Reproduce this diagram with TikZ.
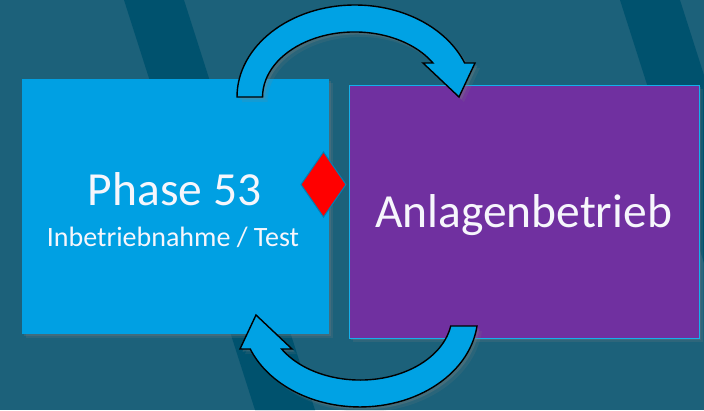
\documentclass[tikz,border=0pt]{standalone}
\usepackage{fontspec}
\setmainfont{Carlito}
\usetikzlibrary{shadows}
\definecolor{bgteal}{RGB}{28,97,122}
\definecolor{stripeteal}{RGB}{0,82,110}
\definecolor{phaseblue}{RGB}{0,160,227}
\definecolor{arrowblue}{RGB}{0,162,228}
\definecolor{runpurple}{RGB}{112,48,160}
\definecolor{edgeblue}{RGB}{20,176,236}
\definecolor{textwhite}{RGB}{246,246,252}
\tikzset{
  stripe/.style={fill=stripeteal, draw=none},
  softshadow/.style={
    drop shadow={opacity=0.18, shadow xshift=3.5pt, shadow yshift=-3.5pt},
    drop shadow={opacity=0.25, shadow xshift=2pt, shadow yshift=-2pt}},
  phasebox/.style={fill=phaseblue, draw=none, softshadow},
  runbox/.style={fill=runpurple, draw=edgeblue, line width=1pt, softshadow},
  gate/.style={fill=red, draw=phaseblue!80!black, line width=1pt},
  cyclearrow/.style={fill=arrowblue, draw=black, line width=1.4pt, line join=miter,
    drop shadow={opacity=0.15, shadow xshift=5pt, shadow yshift=-5pt},
    drop shadow={opacity=0.3, shadow xshift=2.5pt, shadow yshift=-2.5pt}},
  bigtext/.style={text=textwhite, font=\fontsize{47.5}{52}\selectfont, anchor=base, inner sep=0pt},
  smalltext/.style={text=textwhite, font=\fontsize{28}{32}\selectfont, anchor=base, inner sep=0pt},
}
\begin{document}
\begin{tikzpicture}[x=1pt,y=-1pt]
  % background and diagonal bands
  \fill[bgteal] (0,0) rectangle (704,410);
  \useasboundingbox (0,0) rectangle (704,410);
  \fill[stripe] (124,0) -- (184,0) -- (315,410) -- (255,410) -- cycle;
  \fill[stripe] (620,0) -- (680,0) -- (811,410) -- (751,410) -- cycle;

  % the two phases
  \path[phasebox] (22,79) rectangle (329,334);
  \path[runbox] (349,85) rectangle (699,338);

  % texts
  \node[bigtext] (phasetitle) at (174.5,205) {Phase 53};
  \node[smalltext] (phasesub) at (173,246) {Inbetriebnahme / Test};
  \node[bigtext] (runtitle) at (523.5,227) {Anlagenbetrieb};

  % gate between the phases
  \path[gate] (301,184.5) -- (323.5,152) -- (346,184.5) -- (323.5,217) -- cycle;

  % upper cycle arrow: phase -> operation
  \path[cyclearrow] (237,97)
    arc[start angle=180, end angle=21.7, x radius=118pt, y radius=92pt]
    -- (475,63) -- (459,97) -- (423,63) -- (433,63)
    arc[start angle=31.5, end angle=180, x radius=92pt, y radius=65pt]
    -- cycle;

  % lower cycle arrow: operation -> phase
  \path[cyclearrow] (477,326)
    arc[start angle=-6.9, end angle=-158.3, x radius=118pt, y radius=92pt]
    -- (240,349) -- (256,315) -- (292,349) -- (281.6,349)
    arc[start angle=-148.5, end angle=-9.7, x radius=92pt, y radius=65pt]
    -- cycle;
\end{tikzpicture}
\end{document}
